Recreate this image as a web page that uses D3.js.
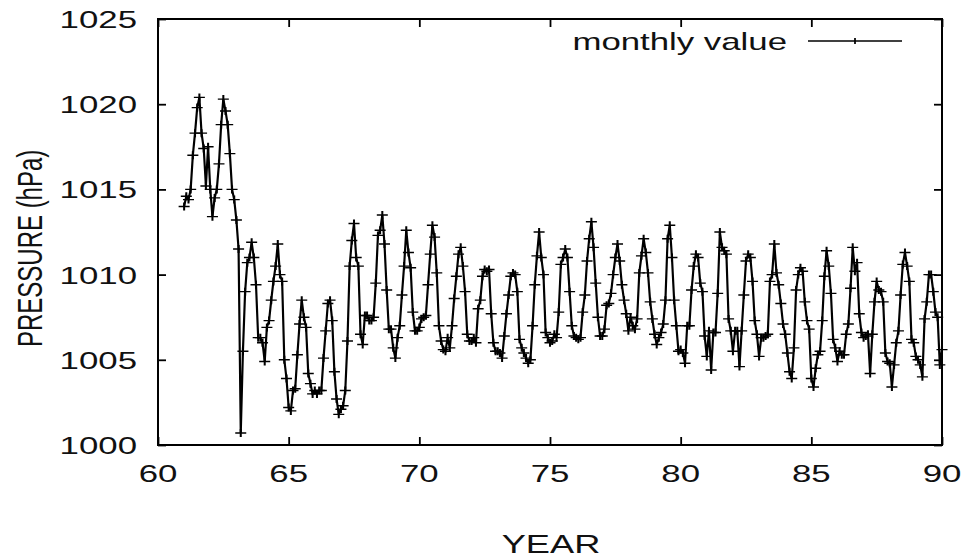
<!DOCTYPE html>
<html>
<head>
<meta charset="utf-8">
<script src="https://cdn.jsdelivr.net/npm/d3@7"></script>
<style>
  html, body { margin: 0; padding: 0; background: #fff; }
  svg text { font-family: "Liberation Sans", Arial, Helvetica, sans-serif; fill: #111; }
</style>
</head>
<body>
<svg id="chart" width="970" height="560"></svg>
<script>
// ---------- DATA ----------
const startYear = 61;             // first value = January 1961
const xTicks = [60, 65, 70, 75, 80, 85, 90];
const yTicks = [1000, 1005, 1010, 1015, 1020, 1025];
const xLabel = "YEAR";
const yLabel = "PRESSURE (hPa)";
const legendLabel = "monthly value";

// monthly mean pressure (hPa), Jan..Dec of each year
const monthlyValues = [
  1014.0, 1014.6, 1014.4, 1015.0, 1017.0, 1018.3, 1019.8, 1020.4, 1018.3, 1017.4, 1015.2, 1017.5, // 61
  1015.0, 1013.4, 1014.5, 1015.0, 1016.5, 1018.8, 1020.3, 1019.6, 1018.8, 1017.1, 1015.0, 1014.4, // 62
  1013.2, 1011.5, 1000.7, 1005.5, 1009.0, 1010.7, 1011.0, 1011.9, 1011.0, 1009.4, 1006.3, 1006.3, // 63
  1006.0, 1004.9, 1006.9, 1007.3, 1008.5, 1009.6, 1010.5, 1011.8, 1010.0, 1009.6, 1005.0, 1003.9, // 64
  1002.2, 1002.0, 1003.2, 1003.3, 1005.3, 1007.1, 1008.5, 1007.5, 1006.9, 1004.2, 1003.6, 1003.0, // 65
  1003.2, 1003.0, 1003.2, 1003.2, 1005.1, 1006.7, 1008.3, 1008.5, 1007.3, 1004.3, 1002.7, 1001.8, // 66
  1002.1, 1002.3, 1003.2, 1006.1, 1010.5, 1012.0, 1013.0, 1011.0, 1010.5, 1006.5, 1005.9, 1007.6, // 67
  1007.6, 1007.3, 1007.3, 1007.5, 1009.5, 1012.3, 1012.6, 1013.5, 1011.8, 1009.1, 1006.8, 1006.8, // 68
  1005.7, 1005.1, 1006.3, 1007.0, 1008.8, 1010.5, 1012.6, 1011.3, 1010.4, 1007.8, 1006.7, 1006.7, // 69
  1006.9, 1007.4, 1007.5, 1007.6, 1009.4, 1011.2, 1012.9, 1012.2, 1010.1, 1007.0, 1006.1, 1005.6, // 70
  1005.5, 1006.3, 1005.7, 1007.0, 1008.6, 1009.9, 1011.2, 1011.6, 1010.5, 1009.0, 1006.5, 1006.1, // 71
  1006.1, 1006.3, 1006.0, 1008.0, 1008.5, 1009.9, 1010.3, 1010.2, 1010.3, 1007.7, 1006.0, 1005.5, // 72
  1005.5, 1005.4, 1005.1, 1006.4, 1007.7, 1008.8, 1009.9, 1010.1, 1010.0, 1009.0, 1006.2, 1005.7, // 73
  1005.4, 1005.1, 1004.8, 1005.0, 1007.0, 1009.4, 1011.1, 1012.5, 1011.0, 1010.0, 1006.6, 1006.3, // 74
  1006.0, 1006.1, 1006.5, 1006.3, 1007.8, 1010.6, 1011.0, 1011.5, 1011.0, 1009.0, 1007.0, 1006.4, // 75
  1006.3, 1006.2, 1006.3, 1007.8, 1008.8, 1010.8, 1012.1, 1013.1, 1011.6, 1009.5, 1007.5, 1006.4, // 76
  1006.4, 1006.8, 1008.2, 1008.3, 1008.9, 1010.0, 1011.0, 1011.8, 1010.8, 1009.4, 1008.5, 1007.7, // 77
  1006.7, 1007.5, 1007.0, 1006.8, 1007.4, 1010.1, 1011.1, 1012.1, 1011.3, 1010.1, 1008.4, 1007.4, // 78
  1006.5, 1005.9, 1006.3, 1006.6, 1007.1, 1008.5, 1012.1, 1012.9, 1011.0, 1008.5, 1007.0, 1005.5, // 79
  1005.6, 1005.4, 1004.8, 1007.0, 1007.0, 1009.1, 1010.5, 1011.2, 1011.0, 1009.5, 1009.0, 1006.4, // 80
  1005.2, 1006.7, 1004.4, 1006.6, 1006.6, 1008.9, 1012.5, 1011.6, 1011.4, 1011.2, 1007.4, 1006.7, // 81
  1005.5, 1006.7, 1006.7, 1004.6, 1006.7, 1008.8, 1010.8, 1011.2, 1011.0, 1009.6, 1007.3, 1006.5, // 82
  1005.2, 1006.3, 1006.3, 1006.4, 1006.5, 1009.6, 1010.0, 1011.8, 1010.1, 1009.4, 1008.3, 1007.1, // 83
  1006.5, 1005.4, 1004.3, 1003.9, 1005.7, 1009.1, 1010.0, 1010.4, 1010.2, 1008.4, 1007.3, 1006.8, // 84
  1003.9, 1003.4, 1004.5, 1005.3, 1005.5, 1007.3, 1009.9, 1011.4, 1010.5, 1008.9, 1006.2, 1005.7, // 85
  1004.9, 1005.5, 1005.3, 1005.3, 1006.5, 1007.1, 1009.2, 1011.6, 1010.2, 1010.7, 1007.7, 1006.6, // 86
  1006.3, 1006.4, 1006.5, 1004.2, 1006.5, 1008.4, 1009.6, 1009.1, 1009.0, 1008.4, 1005.4, 1004.9, // 87
  1004.8, 1003.4, 1004.7, 1006.0, 1006.7, 1008.8, 1010.6, 1011.3, 1010.5, 1009.6, 1006.2, 1006.0, // 88
  1005.2, 1005.0, 1004.7, 1004.0, 1007.4, 1008.4, 1010.0, 1010.0, 1009.0, 1007.8, 1007.5, 1004.7, // 89
  1005.6                                                                                          // 90
];

// ---------- LAYOUT ----------
const svg = d3.select("#chart");
const L = 158, R = 942, T = 19, B = 445;
const SX = 1.45; // horizontal stretch of the original rendering
const FS = 24;

const x = d3.scaleLinear().domain([60, 90]).range([L, R]);
const y = d3.scaleLinear().domain([1000, 1025]).range([B, T]);
// unstretched x scale, used inside a horizontally stretched group
const xs = d3.scaleLinear().domain([60, 90]).range([L / SX, R / SX]);

const data = monthlyValues.map((v, i) => ({ t: startYear + i / 12, v }));

svg.append("defs").append("clipPath").attr("id", "clip")
  .append("rect").attr("x", L / SX).attr("y", T).attr("width", (R - L) / SX).attr("height", B - T);

const plot = svg.append("g").attr("transform", `scale(${SX},1)`);

// data line
const line = d3.line().x(d => xs(d.t)).y(d => y(d.v));
plot.append("path")
  .datum(data)
  .attr("clip-path", "url(#clip)")
  .attr("d", line)
  .attr("fill", "none")
  .attr("stroke", "#000")
  .attr("stroke-width", 1.5)
  .attr("stroke-linejoin", "miter");

// markers
const plus = "M-3.8,0H3.8M0,-4V4";
plot.append("g")
  .selectAll("path")
  .data(data)
  .join("path")
  .attr("transform", d => `translate(${xs(d.t)},${y(d.v)})`)
  .attr("d", plus)
  .attr("fill", "none")
  .attr("stroke", "#000")
  .attr("stroke-width", 1.4);

// axes (ticks inward, mirrored)
const tickLen = 8;
const axisB = d3.axisBottom(x).tickValues(xTicks).tickSize(-tickLen).tickFormat("");
const axisT = d3.axisTop(x).tickValues(xTicks).tickSize(-tickLen).tickFormat("");
const axisLft = d3.axisLeft(y).tickValues(yTicks).tickSize(-tickLen).tickFormat("");
const axisRgt = d3.axisRight(y).tickValues(yTicks).tickSize(-tickLen).tickFormat("");
function styleAxis(g) {
  g.select(".domain").remove();
  g.selectAll(".tick line").attr("stroke", "#000").attr("stroke-width", 1.8);
}
svg.append("g").attr("transform", `translate(0,${B})`).call(axisB).call(styleAxis);
svg.append("g").attr("transform", `translate(0,${T})`).call(axisT).call(styleAxis);
svg.append("g").attr("transform", `translate(${L},0)`).call(axisLft).call(styleAxis);
svg.append("g").attr("transform", `translate(${R},0)`).call(axisRgt).call(styleAxis);

// frame
svg.append("rect")
  .attr("x", L).attr("y", T).attr("width", R - L).attr("height", B - T)
  .attr("fill", "none").attr("stroke", "#000").attr("stroke-width", 2);

// tick labels
svg.append("g").selectAll("text")
  .data(xTicks).join("text")
  .attr("transform", d => `translate(${x(d)},482) scale(${SX},1)`)
  .attr("text-anchor", "middle")
  .attr("font-size", FS)
  .text(d => d);

svg.append("g").selectAll("text")
  .data(yTicks).join("text")
  .attr("transform", d => `translate(137,${y(d) + 9}) scale(${SX},1)`)
  .attr("text-anchor", "end")
  .attr("font-size", FS)
  .text(d => d);

// axis titles
svg.append("text")
  .attr("transform", `translate(551,553) scale(${SX},1)`)
  .attr("text-anchor", "middle")
  .attr("font-size", 25)
  .text(xLabel);

svg.append("text")
  .attr("transform", `translate(42,347) rotate(-90) scale(1,${SX})`)
  .attr("text-anchor", "start")
  .attr("font-size", FS)
  .text(yLabel);

// legend
svg.append("text")
  .attr("transform", `translate(787,50) scale(${SX},1)`)
  .attr("text-anchor", "end")
  .attr("font-size", FS)
  .text(legendLabel);
svg.append("line")
  .attr("x1", 808).attr("x2", 902).attr("y1", 41).attr("y2", 41)
  .attr("stroke", "#000").attr("stroke-width", 1.4);
svg.append("g").attr("transform", `scale(${SX},1)`)
  .append("path")
  .attr("transform", `translate(${855 / SX},41)`)
  .attr("d", "M0,-3V3")
  .attr("fill", "none").attr("stroke", "#000").attr("stroke-width", 1.2);
</script>
</body>
</html>
